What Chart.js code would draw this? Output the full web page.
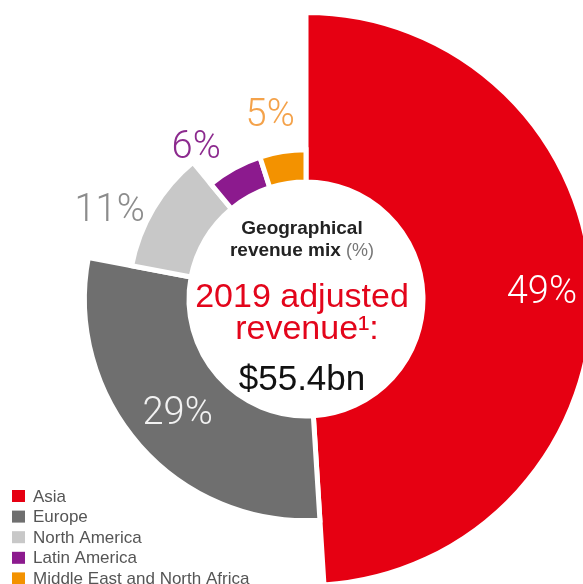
<!DOCTYPE html>
<html>
<head>
<meta charset="utf-8">
<script src="https://cdn.jsdelivr.net/npm/chart.js@4/dist/chart.umd.min.js"></script>
<style>
  html, body { margin: 0; padding: 0; background: #fff; overflow: hidden; }
  #wrap { width: 595px; height: 588px; }
</style>
</head>
<body>
<div id="wrap"><canvas id="geoMix"></canvas></div>
<script>
// Geographical revenue mix, 2019 (%)
const regions = ['Asia', 'Europe', 'North America', 'Latin America', 'Middle East and North Africa'];
const shares = [49, 29, 11, 6, 5];

// styling
const sliceColors = ['#e60012', '#6f6f6f', '#c8c8c8', '#8c1a8e', '#f39200'];
const labelColors = ['#ffffff', '#f2f2f2', '#8c8c8c', '#8c2a8e', '#f4a24a'];
const ringDepth = [1, 0.617, 0.357, 0.19, 0.19]; // share of full ring thickness per slice
const labelNudge = [0, 0, -6, -7, -2];           // degrees
const GAP = 5;

const FONT = '"Liberation Sans", Arial, sans-serif';
const LIGHT = 'Roboto, "Liberation Sans", sans-serif';

// give each slice its own outer radius
const ringDepthPlugin = {
  id: 'ringDepth',
  afterDatasetsUpdate(chart) {
    chart.getDatasetMeta(0).data.forEach((arc, i) => {
      arc.outerRadius = arc.innerRadius + (arc.outerRadius - arc.innerRadius) * ringDepth[i];
    });
  }
};

const sliceLabels = {
  id: 'sliceLabels',
  afterDatasetsDraw(chart) {
    const ctx = chart.ctx;
    ctx.save();
    ctx.textAlign = 'center';
    ctx.textBaseline = 'middle';
    ctx.font = '300 38px ' + LIGHT;
    chart.getDatasetMeta(0).data.forEach((arc, i) => {
      const outer = arc.outerRadius - GAP / 2;
      const inside = outer - arc.innerRadius > 60;
      const r = inside ? outer - 48 : outer + 41;
      const mid = (arc.startAngle + arc.endAngle) / 2 + labelNudge[i] * Math.PI / 180;
      const x = arc.x + Math.cos(mid) * r;
      const y = arc.y + Math.sin(mid) * r + 2;
      ctx.fillStyle = labelColors[i];
      ctx.fillText(shares[i] + '%', x, y);
    });
    ctx.restore();
  }
};

const centerText = {
  id: 'centerText',
  afterDraw(chart) {
    const arc = chart.getDatasetMeta(0).data[0];
    const ctx = chart.ctx;
    const cx = arc.x - 4, cy = arc.y;
    ctx.save();
    ctx.textBaseline = 'alphabetic';
    ctx.textAlign = 'center';

    ctx.fillStyle = '#222';
    ctx.font = 'bold 19px ' + FONT;
    ctx.fillText('Geographical', cx, cy - 65);

    // "revenue mix" bold + "(%)" regular
    const a = 'revenue mix ', b = '(%)';
    ctx.font = 'bold 19px ' + FONT;
    const wa = ctx.measureText(a).width;
    ctx.font = '18px ' + FONT;
    const wb = ctx.measureText(b).width;
    const x0 = cx - (wa + wb) / 2;
    ctx.textAlign = 'left';
    ctx.font = 'bold 19px ' + FONT;
    ctx.fillText(a, x0, cy - 43);
    ctx.fillStyle = '#777';
    ctx.font = '18px ' + FONT;
    ctx.fillText(b, x0 + wa, cy - 43);

    ctx.textAlign = 'center';
    ctx.fillStyle = '#e3051b';
    ctx.font = '34px ' + FONT;
    ctx.fillText('2019 adjusted', cx, cy + 8);
    ctx.fillText('revenue\u00b9:', cx + 5, cy + 40);

    ctx.fillStyle = '#111';
    ctx.font = '35px ' + FONT;
    ctx.fillText('$55.4bn', cx, cy + 91);
    ctx.restore();
  }
};

const bottomLegend = {
  id: 'bottomLegend',
  afterDraw(chart) {
    const ctx = chart.ctx;
    ctx.save();
    ctx.font = '17px ' + FONT;
    ctx.textBaseline = 'middle';
    regions.forEach((name, i) => {
      const y = 496 + i * 20.6;
      ctx.fillStyle = sliceColors[i];
      ctx.fillRect(12, y - 6, 13, 12);
      ctx.fillStyle = '#555';
      ctx.fillText(name, 33, y + 1);
    });
    ctx.restore();
  }
};

new Chart(document.getElementById('geoMix'), {
  type: 'doughnut',
  data: {
    labels: regions,
    datasets: [{
      data: shares,
      backgroundColor: sliceColors,
      borderColor: '#ffffff',
      borderWidth: GAP,
      borderJoinStyle: 'miter',
      borderAlign: 'center'
    }]
  },
  options: {
    responsive: true,
    maintainAspectRatio: false,
    animation: false,
    events: [],
    cutout: 117,
    rotation: 0,
    layout: { padding: { left: 17, top: 10, right: 0, bottom: 0 } },
    plugins: { legend: { display: false }, tooltip: { enabled: false } }
  },
  plugins: [ringDepthPlugin, sliceLabels, centerText, bottomLegend]
});
</script>
</body>
</html>
